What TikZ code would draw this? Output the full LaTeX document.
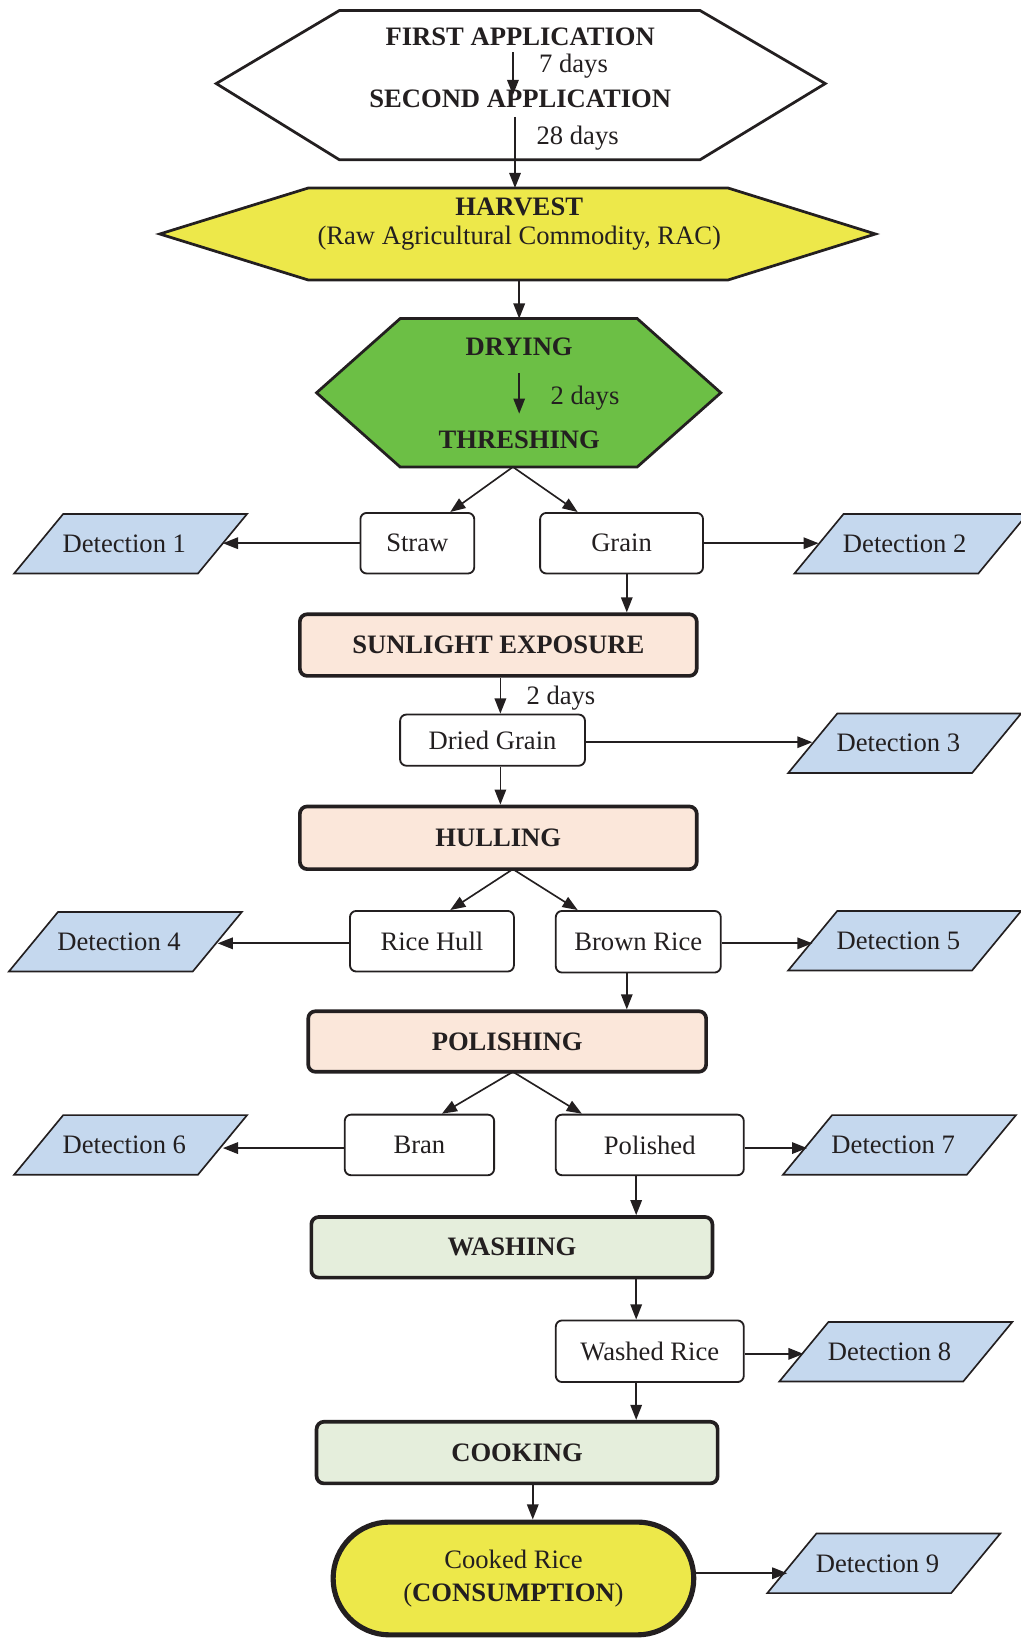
\documentclass[tikz,border=0pt]{standalone}
\usepackage{fontspec}
\setmainfont{Liberation Serif}
\usetikzlibrary{arrows.meta,calc,shapes.misc}
\definecolor{hyellow}{HTML}{EDE84A}
\definecolor{hgreen}{HTML}{6CBF45}
\definecolor{peach}{HTML}{FBE7DA}
\definecolor{lgreen}{HTML}{E5EEDC}
\definecolor{dblue}{HTML}{C5D8EE}
\definecolor{ink}{HTML}{231F20}
\newcommand{\detbox}[4]{%
  \filldraw[detshape] ({#2-64.5},{#3-28.5}) -- ({#2+111.5},{#3-28.5}) -- ({#2+64.5},{#3+28.5}) -- ({#2-111.5},{#3+28.5}) -- cycle;
  \node[dettext] (#1) at (#2,#3) {\hspace*{-0.24cm}#4};}
\begin{document}
\begin{tikzpicture}[x=0.02cm,y=-0.02cm, color=ink,
  font=\fontsize{14.5}{17}\selectfont,
  arr/.style={line width=0.9pt, -{Triangle[length=0.29cm,width=0.22cm]}},
  smallbox/.style={draw, line width=1pt, rounded corners=0.12cm, inner sep=0pt, fill=white},
  procbox/.style={draw, line width=2pt, rounded corners=0.14cm, inner sep=0pt, font=\fontsize{14.5}{17}\selectfont\bfseries},
  dettext/.style={inner sep=0pt, minimum width=3.52cm, minimum height=1.14cm},
  detshape/.style={draw=ink, fill=dblue, line width=0.9pt},
  hexline/.style={draw=ink, line width=1.5pt, line join=miter},
  boldtext/.style={font=\fontsize{14.5}{17}\selectfont\bfseries, inner sep=1pt}]

\useasboundingbox (0,0) rectangle (977,1568);

% ---------- top hexagon ----------
\draw[hexline, fill=white] (207,80) -- (325,10) -- (670,10) -- (790,80) -- (670,153) -- (325,153) -- cycle;
\node[boldtext] (first) at (498,35) {FIRST APPLICATION};
\node[boldtext] (second) at (498,95) {SECOND APPLICATION};
\coordinate (a1) at (491,50);
\coordinate (a2) at (491,91);
\draw[arr] (a1) -- (a2);
\node (d7) at (549,63) {7 days};
\coordinate (a3) at (493,112);
\coordinate (harvtop) at (493,180);
\draw[arr] (a3) -- (harvtop);
\node (d28) at (553,132) {28 days};

% ---------- harvest ----------
\draw[hexline, fill=hyellow] (153,224) -- (295,180) -- (697,180) -- (838,224) -- (697,268) -- (295,268) -- cycle;
\node[boldtext] (harvest) at (497,198) {HARVEST};
\node (rac) at (497,228) {(Raw Agricultural Commodity, RAC)};
\coordinate (harvbot) at (497,268);
\coordinate (drytop) at (497,305);
\draw[arr] (harvbot) -- (drytop);

% ---------- drying / threshing ----------
\draw[hexline, fill=hgreen] (303,376) -- (383,305) -- (610,305) -- (690,376) -- (610,447) -- (383,447) -- cycle;
\node[boldtext] (drying) at (497,332) {DRYING};
\coordinate (b1) at (497,357);
\coordinate (b2) at (497,396);
\draw[arr] (b1) -- (b2);
\node (d2a) at (560,381) {2 days};
\node[boldtext] (thresh) at (497,421) {THRESHING};
\coordinate (thr) at (491,447);

% ---------- boxes ----------
\node[smallbox, minimum width=2.18cm, minimum height=1.16cm] (straw) at (399.5,520) {Straw};
\node[smallbox, minimum width=3.12cm, minimum height=1.16cm] (grain) at (595,520) {Grain};
\node[procbox, fill=peach, minimum width=7.6cm, minimum height=1.18cm] (sun) at (477,617.5) {SUNLIGHT EXPOSURE};
\node[smallbox, minimum width=3.54cm, minimum height=0.98cm] (dried) at (471.5,708.5) {Dried Grain};
\node[procbox, fill=peach, minimum width=7.6cm, minimum height=1.2cm] (hull) at (477,802) {HULLING};
\node[smallbox, minimum width=3.14cm, minimum height=1.16cm] (ricehull) at (413.5,901) {Rice Hull};
\node[smallbox, minimum width=3.16cm, minimum height=1.18cm] (brown) at (611,901.5) {Brown Rice};
\node[procbox, fill=peach, minimum width=7.62cm, minimum height=1.16cm] (polish) at (485.5,997) {POLISHING};
\node[smallbox, minimum width=2.86cm, minimum height=1.16cm] (bran) at (401.5,1096) {Bran};
\node[smallbox, minimum width=3.6cm, minimum height=1.16cm] (polished) at (622,1096) {Polished};
\node[procbox, fill=lgreen, minimum width=7.68cm, minimum height=1.16cm] (wash) at (490,1194) {WASHING};
\node[smallbox, minimum width=3.6cm, minimum height=1.18cm] (washed) at (622,1293.5) {Washed Rice};
\node[procbox, fill=lgreen, minimum width=7.68cm, minimum height=1.18cm] (cook) at (495,1390.5) {COOKING};
\node[draw, rounded rectangle, line width=2.8pt, fill=hyellow, minimum width=7.14cm, minimum height=2.16cm, align=center,
      font=\fontsize{14.5}{17.6}\selectfont] (cooked) at (491.5,1511) {Cooked Rice\\(\textbf{CONSUMPTION})};

% ---------- detections ----------
\detbox{det1}{125}{520.5}{Detection 1}
\detbox{det2}{872}{520.5}{Detection 2}
\detbox{det3}{866}{711.5}{Detection 3}
\detbox{det4}{120}{901.5}{Detection 4}
\detbox{det5}{866}{900.5}{Detection 5}
\detbox{det6}{125}{1096}{Detection 6}
\detbox{det7}{861}{1096}{Detection 7}
\detbox{det8}{857.5}{1294}{Detection 8}
\detbox{det9}{846}{1496.5}{Detection 9}

% ---------- connectors ----------
\draw[arr] (thr) -- ($(straw.north)+(31.5,0)$);
\draw[arr] (thr) -- ($(grain.north)+(-42,0)$);
\draw[arr] (straw.west) -- (straw.west -| det1.east);
\draw[arr] (grain.east) -- (grain.east -| det2.west);
\draw[arr] ($(grain.south)+(5,0)$) coordinate (g1) -- (g1 |- sun.north);
\draw[arr] ($(sun.south)+(2,0)$) coordinate (s1) -- (s1 |- dried.north);
\node (d2b) at (537,668) {2 days};
\draw[arr] ($(dried.east)+(0,2)$) coordinate (de) -- (de -| det3.west);
\draw[arr] ($(dried.south)+(7.5,0)$) coordinate (dg1) -- (dg1 |- hull.north);
\coordinate (hb) at (491,832);
\draw[arr] (hb) -- ($(ricehull.north)+(17.5,0)$);
\draw[arr] (hb) -- ($(brown.north)+(-58,0)$);
\draw[arr] ($(ricehull.west)+(0,2)$) coordinate (rw) -- (rw -| det4.east);
\draw[arr] ($(brown.east)+(0,1.5)$) coordinate (be) -- (be -| det5.west);
\draw[arr] ($(brown.south)+(-11,0)$) coordinate (br1) -- (br1 |- polish.north);
\coordinate (pb) at (491,1026);
\draw[arr] (pb) -- ($(bran.north)+(21.5,0)$);
\draw[arr] (pb) -- ($(polished.north)+(-65,0)$);
\draw[arr] ($(bran.west)+(0,3)$) coordinate (bw) -- (bw -| det6.east);
\draw[arr] ($(polished.east)+(0,3)$) coordinate (pe) -- (pe -| det7.west);
\draw[arr] ($(polished.south)+(-13,0)$) coordinate (po1) -- (po1 |- wash.north);
\draw[arr] (po1 |- wash.south) -- (po1 |- washed.north);
\draw[arr] ($(washed.east)+(0,2.5)$) coordinate (we) -- (we -| det8.west);
\draw[arr] (po1 |- washed.south) -- (po1 |- cook.north);
\draw[arr] ($(cook.south)+(15,0)$) coordinate (c1) -- (c1 |- cooked.north);
\draw[arr] ($(cooked.east)+(0,-5)$) coordinate (ce) -- ($(ce -| det9.west)+(-4,0)$);
\end{tikzpicture}
\end{document}
